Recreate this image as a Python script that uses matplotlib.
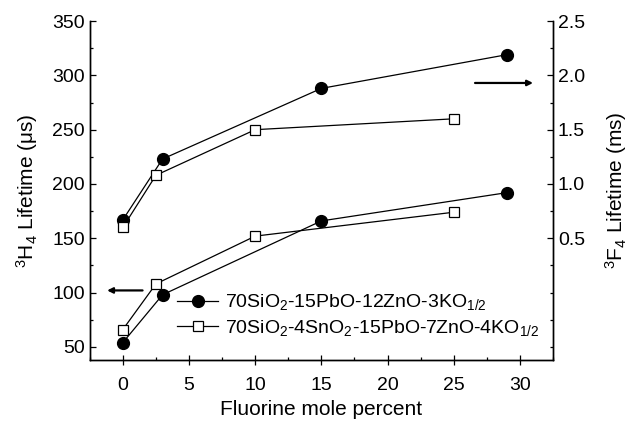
import matplotlib
matplotlib.use("Agg")
import matplotlib.pyplot as plt
from matplotlib.ticker import MultipleLocator, FixedLocator

plt.rcParams['font.family'] = ['Liberation Sans', 'DejaVu Sans']
plt.rcParams['mathtext.fontset'] = 'custom'
plt.rcParams['mathtext.rm'] = 'Liberation Sans'
plt.rcParams['mathtext.it'] = 'Liberation Sans:italic'

# fluorine content (mole %)
x_pbzn = [0, 3, 15, 29]
x_sn = [0, 2.5, 10, 25]

# 3H4 lifetime (us), left axis
h4_pbzn = [54, 98, 166, 192]
h4_sn = [66, 108, 152, 174]

# 3F4 lifetime (ms), right axis
f4_pbzn = [0.67, 1.23, 1.88, 2.19]
f4_sn = [0.60, 1.08, 1.50, 1.60]

label_pbzn = r'70SiO$_2$-15PbO-12ZnO-3KO$_{1/2}$'
label_sn = r'70SiO$_2$-4SnO$_2$-15PbO-7ZnO-4KO$_{1/2}$'

fig = plt.figure(figsize=(6.32, 4.21), dpi=100)
ax = fig.add_axes([0.142, 0.145, 0.733, 0.805])
ax2 = ax.twinx()

circ = dict(color='black', lw=0.9, marker='o', ms=8.5, mfc='black', mec='black')
sq = dict(color='black', lw=0.9, marker='s', ms=7.5, mfc='white', mec='black', mew=0.9)

l1, = ax.plot(x_pbzn, h4_pbzn, label=label_pbzn, **circ)
l2, = ax.plot(x_sn, h4_sn, label=label_sn, **sq)
ax2.plot(x_pbzn, f4_pbzn, **circ)
ax2.plot(x_sn, f4_sn, **sq)

ax.set_xlim(-2.5, 32.5)
ax.set_ylim(38, 350)
ax2.set_ylim(-0.62, 2.5)

ax.xaxis.set_major_locator(MultipleLocator(5))
ax.xaxis.set_minor_locator(MultipleLocator(2.5))
ax.yaxis.set_major_locator(FixedLocator([50, 100, 150, 200, 250, 300, 350]))
ax.yaxis.set_minor_locator(MultipleLocator(25))
ax2.yaxis.set_major_locator(FixedLocator([0.5, 1.0, 1.5, 2.0, 2.5]))
ax2.yaxis.set_minor_locator(FixedLocator([-0.5, -0.25, 0.0, 0.25, 0.75, 1.25, 1.75, 2.25]))
ax2.yaxis.set_major_formatter(plt.FormatStrFormatter('%.1f'))

for a in (ax, ax2):
    a.spines['top'].set_visible(False)
    for s in a.spines.values():
        s.set_linewidth(1.0)
    a.tick_params(which='both', direction='in', labelsize=14, width=0.9)
    a.tick_params(which='major', length=4)
    a.tick_params(which='minor', length=2.5)
ax.tick_params(axis='x', which='major', direction='inout', length=7, pad=9)

ax.set_xlabel('Fluorine mole percent', fontsize=15, labelpad=4)
ax.set_ylabel(r'$^3$H$_4$ Lifetime (μs)', fontsize=15, labelpad=9)
ax2.set_ylabel(r'$^3$F$_4$ Lifetime (ms)', fontsize=15, rotation=90, labelpad=13)

# arrows pointing to the relevant axis
ax.annotate('', xy=(-1.4, 102), xytext=(1.7, 102),
            arrowprops=dict(arrowstyle='-|>', color='black', lw=1.6, mutation_scale=8))
ax2.annotate('', xy=(31.2, 1.93), xytext=(26.4, 1.93),
             arrowprops=dict(arrowstyle='-|>', color='black', lw=1.6, mutation_scale=8))

ax.legend(handles=[l1, l2], loc='lower left', bbox_to_anchor=(0.172, 0.042),
          frameon=False, fontsize=14, handlelength=2.1, handletextpad=0.35,
          labelspacing=0.28, borderaxespad=0)

fig.savefig('out.png', dpi=100)
